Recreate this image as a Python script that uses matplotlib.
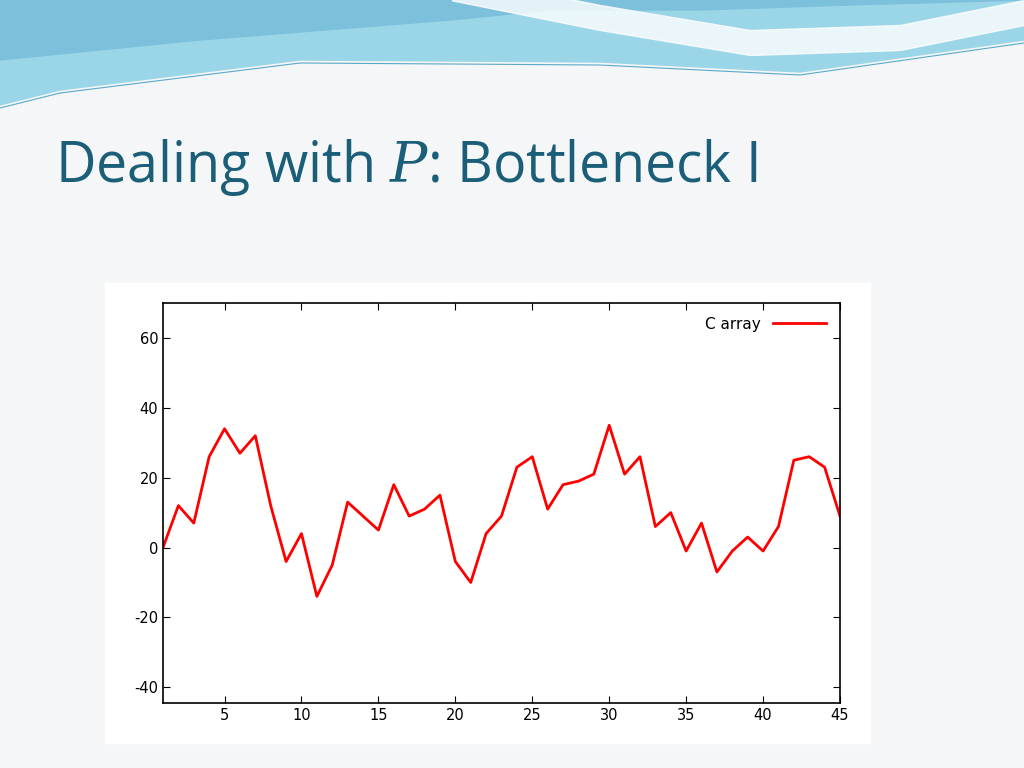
import matplotlib
matplotlib.use("Agg")
import matplotlib.pyplot as plt
import numpy as np
plt.rcParams["axes.unicode_minus"] = False
plt.rcParams["mathtext.fontset"] = "dejavuserif"

x_vals = list(range(1, 46))
c_array = [0, 12, 7, 26, 34, 27, 32, 12, -4, 4, -14, -5, 13, 9, 5, 18, 9, 11, 15, -4,
           -10, 4, 9, 23, 26, 11, 18, 19, 21, 35, 21, 26, 6, 10, -1, 7, -7, -1, 3, -1,
           6, 25, 26, 23, 9]
x_ticks = [5, 10, 15, 20, 25, 30, 35, 40, 45]
y_ticks = [-40, -20, 0, 20, 40, 60]

fig = plt.figure(figsize=(10.24, 7.68), dpi=100)
fig.patch.set_facecolor("#f4f6f7")

bg = fig.add_axes([0, 0, 1, 1])
bg.set_xlim(0, 1024); bg.set_ylim(768, 0); bg.axis("off")
xs = np.linspace(0, 1024, 300)
top = np.zeros_like(xs)
lower = np.interp(xs, [0, 60, 300, 600, 800, 1024], [105, 90, 60, 62, 72, 40])
bg.fill_between(xs, top, lower, color="#9ad6e8", zorder=0)
upper2 = np.interp(xs, [0, 200, 450, 550, 700, 850, 1024], [60, 40, 20, 10, 10, 5, 0])
bg.fill_between(xs, top, upper2, color="#7cc0dc", zorder=1)
band = np.interp(xs, [450, 600, 750, 900, 1024], [0, 30, 55, 50, 25])
mask = xs >= 450
bg.fill_between(xs[mask], band[mask] - 25, band[mask], color="#ffffff", alpha=0.8, zorder=2)
bg.plot(xs, lower + 3, color="#5aa9c9", lw=0.8, zorder=2)
bg.text(55, 168, "Dealing with $P$: Bottleneck I", fontsize=40, color="#1b5e78",
        family="Open Sans", va="center", ha="left")
bg.add_patch(plt.Rectangle((105, 283), 765, 460, color="white", zorder=3))

ax = fig.add_axes([163/1024, 1-703/768, 677/1024, 400/768])
ax.plot(x_vals, c_array, color="#ff0000", lw=2, label="C array")
ax.set_xlim(1, 45)
ax.set_ylim(-44.5, 70)
ax.set_xticks(x_ticks)
ax.set_yticks(y_ticks)
ax.tick_params(direction="in", top=True, right=True, labelsize=10.5, length=5)
for s in ax.spines.values():
    s.set_linewidth(1.2)
ax.legend(loc="upper right", frameon=False, fontsize=11, markerfirst=False,
          handlelength=3.5)
fig.savefig("out.png", dpi=100, facecolor=fig.get_facecolor())
